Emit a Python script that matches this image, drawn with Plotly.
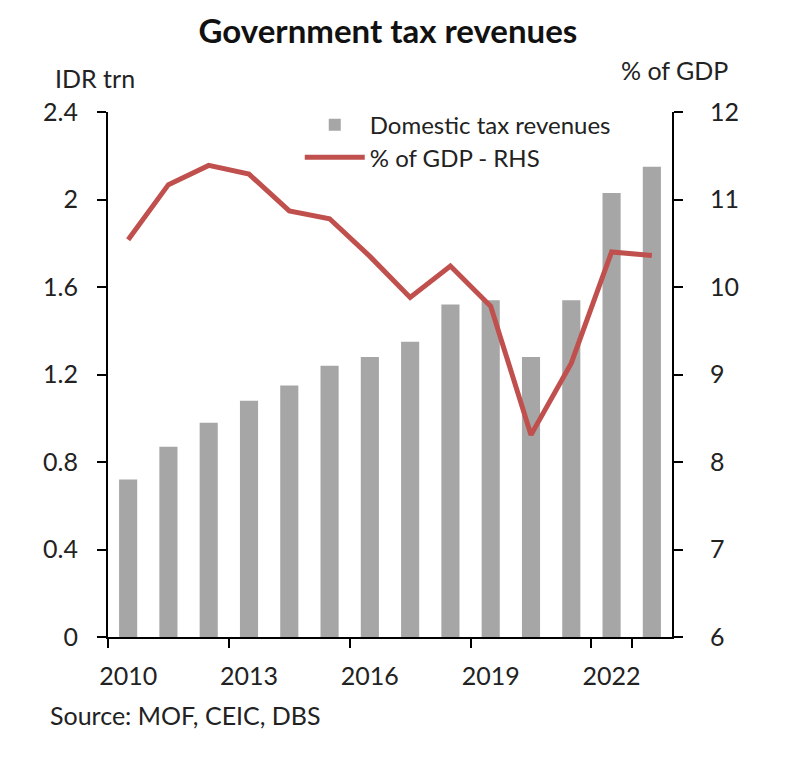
import plotly.graph_objects as go

years = [str(y) for y in range(2010, 2024)]
tax_revenues = [0.72, 0.87, 0.98, 1.08, 1.15, 1.24, 1.28, 1.35, 1.52, 1.54, 1.28, 1.54, 2.03, 2.15]
pct_gdp = [10.54, 11.17, 11.39, 11.29, 10.87, 10.78, 10.35, 9.88, 10.24, 9.78, 8.31, 9.13, 10.40, 10.36]
tick_years = ["2010", "2013", "2016", "2019", "2022"]

FONT = "Lato"
TXT = "#222"

fig = go.Figure()
fig.add_bar(
    x=years,
    y=tax_revenues,
    name="Domestic tax revenues",
    marker=dict(color="#A6A6A6", line=dict(width=0)),
    showlegend=True,
    legend="legend",
)
fig.add_scatter(
    x=years,
    y=pct_gdp,
    name="% of GDP - RHS",
    yaxis="y2",
    mode="lines",
    line=dict(color="#C0504D", width=5),
    showlegend=True,
    legend="legend2",
)

axis_common = dict(
    showline=True,
    linecolor="black",
    linewidth=2,
    ticks="outside",
    tickcolor="black",
    tickwidth=2,
    ticklen=9,
    showgrid=False,
    zeroline=False,
    tickfont=dict(family=FONT, size=25, color=TXT),
)

legend_common = dict(
    x=0.34,
    xanchor="left",
    yanchor="middle",
    bgcolor="rgba(0,0,0,0)",
    itemwidth=60,
    font=dict(family=FONT, size=24, color=TXT),
)

fig.update_layout(
    width=790,
    height=745,
    showlegend=True,
    paper_bgcolor="white",
    plot_bgcolor="white",
    margin=dict(l=100, r=126, t=104, b=116),
    bargap=0.55,
    font=dict(family=FONT, color=TXT),
    title=dict(
        text="<b>Government tax revenues</b>",
        x=0.481,
        xanchor="center",
        y=0.968,
        yanchor="middle",
        font=dict(family=FONT, size=33, color="#111"),
    ),
    xaxis=dict(
        type="category",
        tickvals=tick_years,
        ticktext=tick_years,
        tickson="boundaries",
        tickangle=0,
        ticklabelstandoff=16,
        **axis_common,
    ),
    yaxis=dict(range=[0, 2.4], dtick=0.4, ticklabelstandoff=14, **axis_common),
    yaxis2=dict(range=[6, 12], dtick=1, overlaying="y", side="right",
                ticklabelstandoff=22, **axis_common),
    legend=dict(y=0.975, **legend_common),
    legend2=dict(y=0.913, **legend_common),
    annotations=[
        dict(text="IDR trn", xref="paper", yref="paper", x=-0.0975, y=1.065,
             xanchor="left", yanchor="middle", showarrow=False,
             font=dict(family=FONT, size=25, color=TXT)),
        dict(text="% of GDP", xref="paper", yref="paper", x=1.103, y=1.08,
             xanchor="right", yanchor="middle", showarrow=False,
             font=dict(family=FONT, size=25, color=TXT)),
        dict(text="Source: MOF, CEIC, DBS", xref="paper", yref="paper", x=-0.106, y=-0.1486,
             xanchor="left", yanchor="middle", showarrow=False,
             font=dict(family=FONT, size=25, color=TXT)),
    ],
)

fig.write_html("out.html")
